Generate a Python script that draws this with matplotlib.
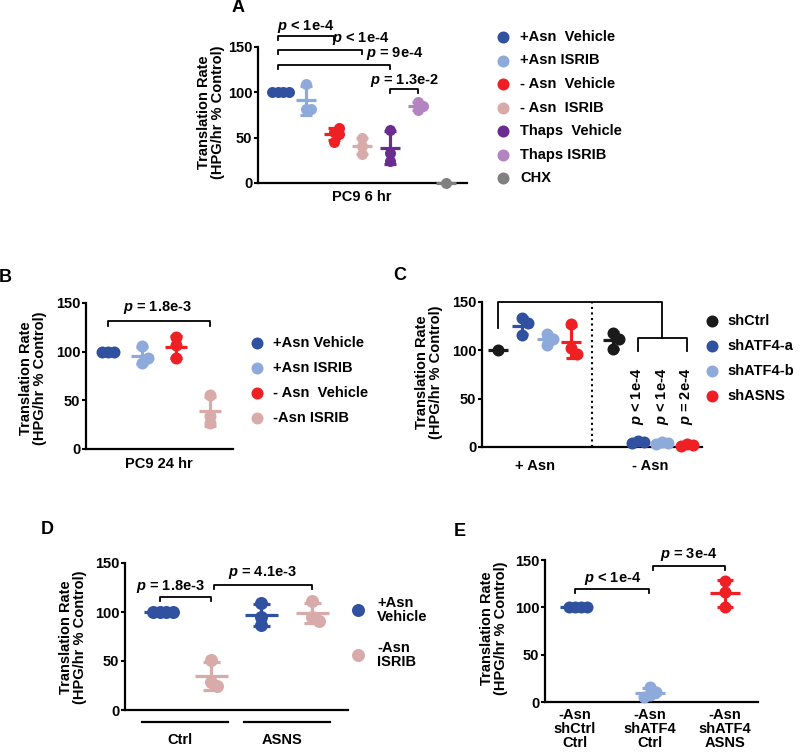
import numpy as np
import matplotlib
matplotlib.use("Agg")
import matplotlib.pyplot as plt

plt.rcParams['font.family'] = ['Liberation Sans', 'DejaVu Sans']
plt.rcParams['font.weight'] = 'bold'
plt.rcParams['axes.labelweight'] = 'bold'
plt.rcParams['font.size'] = 10
plt.rcParams['mathtext.fontset'] = 'custom'
plt.rcParams['mathtext.it'] = 'Liberation Sans:italic:bold'
plt.rcParams['mathtext.rm'] = 'Liberation Sans:bold'

W, H = 800, 752

# --- colours ---
BLUE = '#3050a0'
LBLUE = '#8eaadb'
RED = '#ee2024'
PINK = '#d8aaaa'
PURPLE = '#6b2c91'
LPURPLE = '#b285c2'
GREY = '#808080'
BLACK = '#1a1a1a'

# --- panel A: PC9 6 hr ---
a_labels = ['+Asn  Vehicle', '+Asn ISRIB', '- Asn  Vehicle', '- Asn  ISRIB',
            'Thaps  Vehicle', 'Thaps ISRIB', 'CHX']
a_colors = [BLUE, LBLUE, RED, PINK, PURPLE, LPURPLE, GREY]
a_values = [[100, 100, 100, 100], [109, 82, 82], [56, 54, 61, 45], [50, 41, 32],
            [59, 33, 24], [89, 85, 80], [0]]
a_pairs = [(1, 3), (1, 4), (1, 5), (5, 6)]
a_pvals = [r'$p$ < 1e-4', r'$p$ < 1e-4', r'$p$ = 9e-4', r'$p$ = 1.3e-2']

# --- panel B: PC9 24 hr ---
b_labels = ['+Asn Vehicle', '+Asn ISRIB', '- Asn  Vehicle', '-Asn ISRIB']
b_colors = [BLUE, LBLUE, RED, PINK]
b_values = [[100, 100, 100], [106, 88, 94], [115, 107, 93], [55, 34, 27]]
b_pvals = [r'$p$ = 1.8e-3']

# --- panel C: shRNA, +/- Asn ---
c_labels = ['shCtrl', 'shATF4-a', 'shATF4-b', 'shASNS']
c_colors = [BLACK, BLUE, LBLUE, RED]
c_plus = [[100], [133, 128, 116], [117, 112, 106], [127, 102, 96]]
c_minus = [[118, 112, 101], [6, 5, 4], [5, 4, 3], [3, 2, 1]]
c_groups = ['+ Asn', '- Asn']
c_pvals = [r'$p$ < 1e-4', r'$p$ < 1e-4', r'$p$ = 2e-4']

# --- panel D: Ctrl vs ASNS ---
d_labels = ['+Asn\nVehicle', '-Asn\nISRIB']
d_colors = [BLUE, PINK]
d_values = [[100, 100, 100, 100], [51, 29, 24], [109, 95, 87], [111, 95, 91]]
d_groups = ['Ctrl', 'ASNS']
d_pvals = [r'$p$ = 1.8e-3', r'$p$ = 4.1e-3']

# --- panel E ---
e_ticks = ['-Asn\nshCtrl\nCtrl', '-Asn\nshATF4\nCtrl', '-Asn\nshATF4\nASNS']
e_colors = [BLUE, LBLUE, RED]
e_values = [[100, 100, 100, 100], [16, 11, 7, 5], [128, 116, 100]]
e_pvals = [r'$p$ < 1e-4', r'$p$ = 3e-4']

YLAB = 'Translation Rate\n(HPG/hr % Control)'
YTICKS = [0, 50, 100, 150]


def px_axes(fig, l, t, r, b):
    return fig.add_axes([l / W, 1 - b / H, (r - l) / W, (b - t) / H])


def style(ax, xlim, ylab_right, ylab_mid):
    ax.set_xlim(*xlim)
    ax.set_ylim(0, 150)
    ax.patch.set_alpha(0)
    for s in ['top', 'right']:
        ax.spines[s].set_visible(False)
    for s in ['left', 'bottom']:
        ax.spines[s].set_linewidth(1.6)
    ax.set_yticks(YTICKS, labels=[str(t) for t in YTICKS], fontweight='bold', fontsize=10.5)
    ax.tick_params(axis='y', length=3, width=1.5, pad=1)
    ax.tick_params(axis='x', length=0)
    ax.set_xticks([])
    ax.set_ylabel(YLAB, fontsize=10.5, linespacing=1.0, fontweight='bold')
    ax.yaxis.set_label_coords(ylab_right / W, 1 - ylab_mid / H, transform=ax.figure.transFigure)


def swarm(ax, x, vals, diam):
    # spread dots that would sit on top of each other, like a scatter dot plot
    step = 0.5 * diam
    pts = ax.transData.transform(np.column_stack([np.full(len(vals), float(x)), vals]))
    placed = []
    for px, py in pts:
        for k in (0, 1, -1, 2, -2, 3, -3, 4, -4):
            cx = px + k * step
            if all(np.hypot(cx - qx, py - qy) >= step - 1e-6 for qx, qy in placed):
                break
        placed.append((cx, py))
    return ax.transData.inverted().transform(np.array(placed))[:, 0]


def dots(ax, x, vals, color, diam, mean_w, cap_w):
    xs = swarm(ax, x, vals, diam)
    ax.scatter(xs, vals, s=(diam * 0.72) ** 2, color=color, lw=0, zorder=3, clip_on=False)
    m = np.mean(vals)
    ax.plot([x], [m], marker='_', ms=mean_w * 0.72, mew=2.3, color=color, zorder=4, clip_on=False)
    if len(vals) > 1:
        sd = np.std(vals, ddof=1)
        ax.errorbar([x], [m], yerr=[sd], fmt='none', ecolor=color, elinewidth=2.3,
                    capsize=cap_w * 0.36, capthick=2.3, zorder=4, clip_on=False)


def bracket(ax, x1, x2, y, drop, text=None, tx=None, ty=None):
    ax.plot([x1, x1, x2, x2], [y - drop, y, y, y - drop], color='k', lw=1.3, clip_on=False)
    if text:
        ax.text(tx, ty, text, ha='center', va='center', fontsize=10.5, clip_on=False)


def legend(ov, mx, tx, y0, dy, labels, colors, diam=12, size=10.5):
    for i, (lab, c) in enumerate(zip(labels, colors)):
        y = y0 + i * dy
        ov.scatter([mx], [y], s=(diam * 0.72) ** 2, color=c, lw=0)
        ov.text(tx, y, lab, ha='left', va='center', fontsize=size, linespacing=1.05)


fig = plt.figure(figsize=(W / 100, H / 100), dpi=100)
ov = fig.add_axes([0, 0, 1, 1])
ov.set_xlim(0, W)
ov.set_ylim(H, 0)
ov.axis('off')

# ---------------- A ----------------
axA = px_axes(fig, 258, 47, 467, 183)
style(axA, (0.286, 7.75), 225, 112)
for i, (v, c) in enumerate(zip(a_values, a_colors)):
    dots(axA, i + 1, v, c, 11, 20, 12)
a_layout = [(162, 2.0, 172.4), (147, 3.95, 159.6), (130, 5.18, 143), (103.5, 5.5, 113)]
for (x1, x2), p, (y, tx, ty) in zip(a_pairs, a_pvals, a_layout):
    bracket(axA, x1, x2, y, 4.5, p, tx, ty)
axA.set_xlabel('PC9 6 hr', fontsize=10.5)
axA.xaxis.set_label_coords(362 / W, 1 - 190 / H, transform=fig.transFigure)
legend(ov, 503, 520, 37, 23.5, a_labels, a_colors)

# ---------------- B ----------------
axB = px_axes(fig, 86, 303, 233, 449)
style(axB, (0.353, 4.68), 47, 378)
for i, (v, c) in enumerate(zip(b_values, b_colors)):
    dots(axB, i + 1, v, c, 12, 22, 12)
bracket(axB, 1, 4, 131.5, 5, b_pvals[0], 2.47, 145)
axB.set_xlabel('PC9 24 hr', fontsize=10.5)
axB.xaxis.set_label_coords(159 / W, 1 - 457 / H, transform=fig.transFigure)
legend(ov, 257, 273, 343, 25, b_labels, b_colors)

# ---------------- C ----------------
axC = px_axes(fig, 482, 302, 702, 447)
style(axC, (0.347, 9.33), 443, 372)
c_xp = [1, 2, 3, 4]
c_xm = [5.7, 6.7, 7.7, 8.7]
for x, v, c in zip(c_xp, c_plus, c_colors):
    dots(axC, x, v, c, 12, 20, 11)
for x, v, c in zip(c_xm, c_minus, c_colors):
    dots(axC, x, v, c, 12, 20, 11)
axC.axvline((c_xp[-1] + c_xm[0]) / 2, color='k', ls=':', lw=1.5)
# big bracket: +Asn shCtrl vs -Asn knockdowns
axC.plot([c_xp[0], c_xp[0], c_xm[2], c_xm[2]], [123, 150, 150, 113], color='k', lw=1.3, clip_on=False)
axC.plot([c_xm[1], c_xm[1], c_xm[3], c_xm[3]], [99, 113, 113, 99], color='k', lw=1.3, clip_on=False)
for x, p in zip(c_xm[1:], c_pvals):
    axC.text(x, 52, p, rotation=90, ha='center', va='center', fontsize=10.5)
axC.set_xticks([np.mean(c_xp), np.mean(c_xm)], labels=c_groups, fontweight='bold', fontsize=10.5)
axC.tick_params(axis='x', pad=9)
legend(ov, 712, 727, 321, 25, c_labels, c_colors)

# ---------------- D ----------------
axD = px_axes(fig, 125, 563, 348, 710)
style(axD, (0.31, 4.71), 87, 637)
for i, v in enumerate(d_values):
    dots(axD, i + 1, v, d_colors[i % 2], 13, 33, 17)
bracket(axD, 1, 2, 115, 4, d_pvals[0], 1.2, 125.6)
bracket(axD, 2.07, 4, 127.5, 4, d_pvals[1], 3.03, 140)
for g, name in enumerate(d_groups):
    xc = 2 * g + 1.5
    axD.plot([xc - 0.85, xc + 0.85], [-12, -12], color='k', lw=1.6, clip_on=False)
    axD.text(xc - 0.1, -30.6, name, ha='center', va='center', fontsize=10.5, clip_on=False)
legend(ov, 358, 377, 610, 45, d_labels, d_colors, diam=13)

# ---------------- E ----------------
axE = px_axes(fig, 545, 560, 758, 702)
style(axE, (0.6, 3.44), 508, 628)
for i, (v, c) in enumerate(zip(e_values, e_colors)):
    dots(axE, i + 1, v, c, 12, 30, 16)
bracket(axE, 1, 1.99, 119, 4.2, e_pvals[0], 1.5, 130)
bracket(axE, 2.04, 3, 143.6, 4.2, e_pvals[1], 2.52, 156)
axE.set_xticks([1, 2, 3], labels=e_ticks, linespacing=1.02, fontweight='bold', fontsize=10.5)
axE.tick_params(axis='x', pad=4)

# panel letters
for letter, x, y in [('A', 238, 8), ('B', 5, 277), ('C', 400, 275), ('D', 47, 530), ('E', 460, 531)]:
    ov.text(x, y, letter, ha='center', va='center', fontsize=13, fontweight='bold')

fig.savefig('out.png', dpi=100)
